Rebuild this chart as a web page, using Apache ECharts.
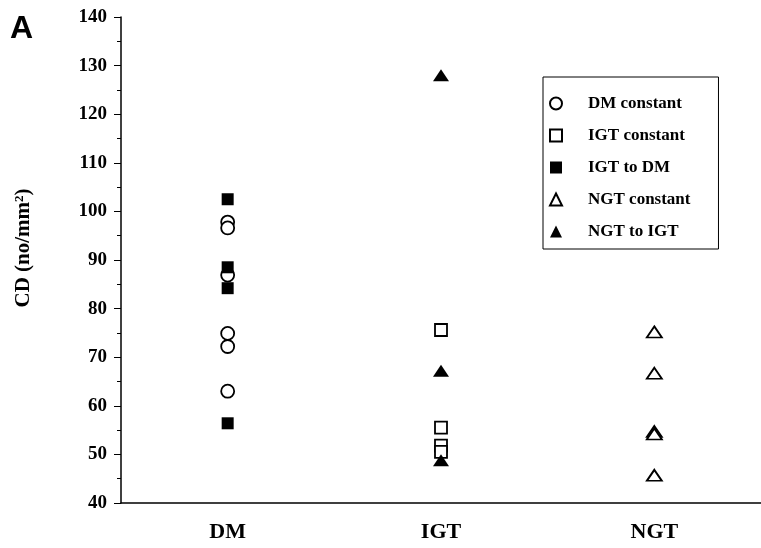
<!DOCTYPE html>
<html>
<head>
<meta charset="utf-8">
<script src="https://cdn.jsdelivr.net/npm/echarts@6/dist/echarts.min.js"></script>
<style>html,body{margin:0;padding:0;background:#fff;}#c{width:761px;height:548px;}</style>
</head>
<body>
<div id="c"></div>
<script>
var categories = ['DM', 'IGT', 'NGT'];
var yTicks = { min: 40, max: 140, interval: 10 };
// values
var dmConstant  = [97.8, 96.6, 86.9, 74.9, 72.2, 63.0];   // DM column
var igtToDm     = [102.5, 88.5, 84.2, 56.4];              // DM column
var igtConstant = [75.6, 55.5, 51.8, 50.5];               // IGT column
var ngtToIgt    = [128.0, 67.2, 48.8];                    // IGT column
var ngtConstant = [75.2, 66.7, 54.7, 54.2, 45.7];         // NGT column

function pts(cat, vals) { return vals.map(function (v) { return [cat, v]; }); }

var serif = '"Liberation Serif", "Times New Roman", serif';
var openStyle = { color: '#fff', borderColor: '#000', borderWidth: 1.8, opacity: 1 };
var fillStyle = { color: '#000', borderColor: '#000', borderWidth: 0, opacity: 1 };

var chart = echarts.init(document.getElementById('c'), null, { renderer: 'canvas' });
chart.setOption({
  animation: false,
  backgroundColor: '#fff',
  title: {
    text: 'A', left: 5, top: 8,
    textStyle: { fontFamily: '"Liberation Sans", Arial, sans-serif', fontWeight: 'bold', fontSize: 32, color: '#000' }
  },
  grid: { left: 121, right: -4, top: 17, bottom: 45 },
  legend: {
    orient: 'vertical', left: 543, top: 77,
    borderColor: '#000', borderWidth: 1, padding: [18, 28, 9, 6],
    itemGap: 15, itemWidth: 12, itemHeight: 12,
    textStyle: { fontFamily: serif, fontWeight: 'bold', fontSize: 17, color: '#000', padding: [0, 0, 0, 21] },
    data: ['DM constant', 'IGT constant', 'IGT to DM', 'NGT constant', 'NGT to IGT']
  },
  xAxis: {
    type: 'category', data: categories, boundaryGap: true,
    axisLine: { lineStyle: { color: '#000', width: 1.5 } },
    axisTick: { alignWithLabel: true, length: 5, lineStyle: { color: '#000' } },
    axisLabel: { fontFamily: serif, fontWeight: 'bold', fontSize: 22, color: '#000', margin: 18 },
    splitLine: { show: false }
  },
  yAxis: {
    type: 'value', min: yTicks.min, max: yTicks.max, interval: yTicks.interval,
    name: '{a|CD (no/mm}{s|2}{a|)}', nameLocation: 'middle', nameRotate: 90, nameGap: 87,
    nameTextStyle: {
      padding: [0, 0, 0, 24],
      rich: {
        a: { fontFamily: serif, fontWeight: 'bold', fontSize: 21, color: '#000' },
        s: { fontFamily: serif, fontWeight: 'bold', fontSize: 13, color: '#000', verticalAlign: 'top', padding: [0, 0, 8, 0] }
      }
    },
    axisLine: { show: true, lineStyle: { color: '#000', width: 1.5 } },
    axisTick: { show: true, length: 7, lineStyle: { color: '#000' } },
    minorTick: { show: true, splitNumber: 2, length: 4, lineStyle: { color: '#000' } },
    axisLabel: { fontFamily: serif, fontWeight: 'bold', fontSize: 19, color: '#000', margin: 14 },
    splitLine: { show: false }
  },
  series: [
    { name: 'DM constant', type: 'scatter', symbol: 'circle', symbolSize: 13, itemStyle: openStyle, data: pts('DM', dmConstant), z: 3 },
    { name: 'IGT constant', type: 'scatter', symbol: 'rect', symbolSize: 12, itemStyle: openStyle, data: pts('IGT', igtConstant), z: 3 },
    { name: 'IGT to DM', type: 'scatter', symbol: 'rect', symbolSize: 12, itemStyle: fillStyle, data: pts('DM', igtToDm), z: 4 },
    { name: 'NGT constant', type: 'scatter', symbol: 'triangle', symbolSize: [15, 11], itemStyle: openStyle, data: pts('NGT', ngtConstant), z: 3 },
    { name: 'NGT to IGT', type: 'scatter', symbol: 'triangle', symbolSize: [16, 12], itemStyle: fillStyle, data: pts('IGT', ngtToIgt), z: 4 }
  ]
});
</script>
</body>
</html>
